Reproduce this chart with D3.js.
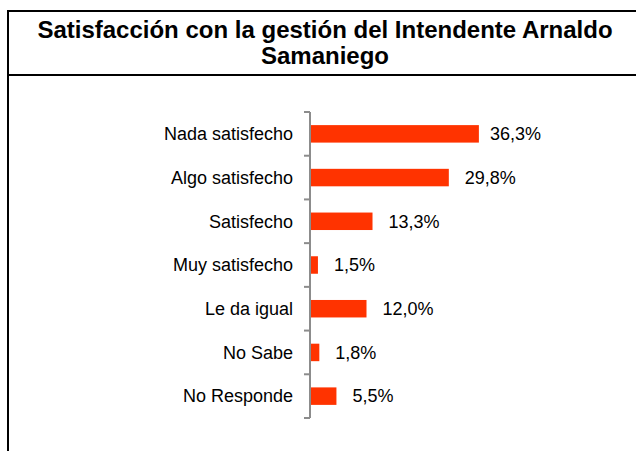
<!DOCTYPE html>
<html>
<head>
<meta charset="utf-8">
<script src="https://cdn.jsdelivr.net/npm/d3@7"></script>
<style>
  body { margin: 0; background: #fff; }
  text { font-family: "Liberation Sans", Arial, sans-serif; }
</style>
</head>
<body>
<div id="chart"></div>
<script>
// datos
const categorias = ['Nada satisfecho', 'Algo satisfecho', 'Satisfecho', 'Muy satisfecho', 'Le da igual', 'No Sabe', 'No Responde']
const valores = [36.3, 29.8, 13.3, 1.5, 12.0, 1.8, 5.5]
const tituloLineas = ['Satisfacción con la gestión del Intendente Arnaldo', 'Samaniego']

const width = 636, height = 451

const svg = d3.select('#chart').append('svg')
    .attr('width', width)
    .attr('height', height)

// marco
svg.append('line').attr('x1', 8).attr('x2', 8).attr('y1', 10).attr('y2', height)
    .attr('stroke', '#000').attr('stroke-width', 2)
svg.append('line').attr('x1', 7).attr('x2', width).attr('y1', 11).attr('y2', 11)
    .attr('stroke', '#000').attr('stroke-width', 2)
svg.append('line').attr('x1', 7).attr('x2', width).attr('y1', 75).attr('y2', 75)
    .attr('stroke', '#000').attr('stroke-width', 2)

// titulo
svg.append('g').selectAll('text')
    .data(tituloLineas)
    .enter()
    .append('text')
    .attr('x', 325)
    .attr('y', (d, i) => 38 + i * 26)
    .attr('text-anchor', 'middle')
    .attr('font-size', 24)
    .attr('font-weight', 'bold')
    .text(d => d)

// escalas
const x = d3.scaleLinear().domain([0, 40]).range([311, 496])
const y = d3.scaleBand().domain(categorias).range([112, 418]).paddingInner(0.6).paddingOuter(0.3)

// eje
const step = (418 - 112) / categorias.length
const ejeG = svg.append('g')
ejeG.append('line').attr('x1', 310).attr('x2', 310).attr('y1', 112).attr('y2', 418)
    .attr('stroke', '#8c8c8c').attr('stroke-width', 2)
ejeG.selectAll('.tick')
    .data(d3.range(categorias.length + 1))
    .enter()
    .append('line')
    .attr('class', 'tick')
    .attr('x1', 304).attr('x2', 310)
    .attr('y1', d => 112 + d * step).attr('y2', d => 112 + d * step)
    .attr('stroke', '#8c8c8c').attr('stroke-width', 2)

// barras
svg.append('g').selectAll('rect')
    .data(valores)
    .enter()
    .append('rect')
    .attr('x', x(0))
    .attr('y', (d, i) => y(categorias[i]))
    .attr('width', d => x(d) - x(0))
    .attr('height', y.bandwidth())
    .attr('fill', '#ff3300')

// etiquetas categorias
svg.append('g').selectAll('text')
    .data(categorias)
    .enter()
    .append('text')
    .attr('x', 293)
    .attr('y', d => y(d) + y.bandwidth() / 2)
    .attr('dy', '0.35em')
    .attr('text-anchor', 'end')
    .attr('font-size', 18)
    .text(d => d)

// etiquetas valores
svg.append('g').selectAll('text')
    .data(valores)
    .enter()
    .append('text')
    .attr('x', (d, i) => x(d) + (i === 0 ? 11 : 16))
    .attr('y', (d, i) => y(categorias[i]) + y.bandwidth() / 2)
    .attr('dy', '0.35em')
    .attr('font-size', 18)
    .text(d => d.toFixed(1).replace('.', ',') + '%')
</script>
</body>
</html>
